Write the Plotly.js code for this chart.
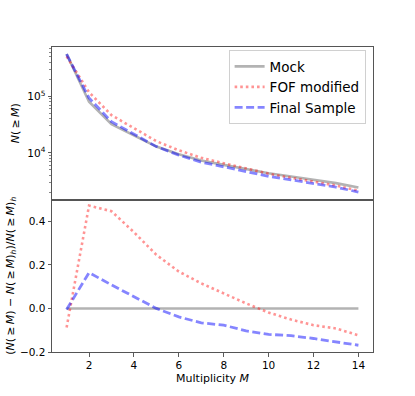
<!DOCTYPE html>
<html>
<head>
<meta charset="utf-8">
<script src="https://cdn.plot.ly/plotly-3.0.1.min.js"></script>
<style>
  html, body { margin: 0; padding: 0; background: #fff; }
  #plot { width: 415px; height: 396px; }
</style>
</head>
<body>
<div id="plot"></div>
<script>
// multiplicity bins
const multiplicity = [1, 2, 3, 4, 5, 6, 7, 8, 9, 10, 11, 12, 13, 14];

// cumulative counts N(>=M)
const nMock  = [556000, 80000, 32000, 20200, 12900, 9480, 7330, 6140, 5150, 4370, 3820, 3340, 2920, 2440];
const nFof   = [507000, 117800, 46300, 27300, 16100, 11080, 8170, 6560, 5270, 4290, 3630, 3080, 2650, 2140];
const nFinal = [553000, 93100, 35500, 21300, 12900, 9110, 6850, 5670, 4620, 3850, 3340, 2880, 2480, 2030];

// relative difference to the mock
const dMock  = [0, 0, 0, 0, 0, 0, 0, 0, 0, 0, 0, 0, 0, 0];
const dFof   = [-0.088, 0.472, 0.446, 0.35, 0.246, 0.169, 0.115, 0.069, 0.023, -0.019, -0.051, -0.077, -0.092, -0.123];
const dFinal = [-0.005, 0.164, 0.108, 0.054, 0.0, -0.039, -0.066, -0.077, -0.103, -0.119, -0.125, -0.138, -0.152, -0.169];

const logMinor = [2000, 3000, 4000, 5000, 6000, 7000, 8000, 9000,
                  20000, 30000, 40000, 50000, 60000, 70000, 80000, 90000,
                  200000, 300000, 400000, 500000, 600000, 700000];

const gray = 'rgba(128,128,128,0.6)';
const red = 'rgba(255,0,0,0.42)';
const blue = 'rgba(0,0,255,0.48)';

const lineMock  = {color: gray, width: 2.6};
const lineFof   = {color: red, width: 2.6, dash: '2.6px,3px'};
const lineFinal = {color: blue, width: 2.8, dash: '8px,3.5px'};

const traces = [
    {x: multiplicity, y: nMock, name: 'Mock', mode: 'lines', line: lineMock, xaxis: 'x', yaxis: 'y'},
    {x: multiplicity, y: nFof, name: 'FOF modified', mode: 'lines', line: lineFof, xaxis: 'x', yaxis: 'y'},
    {x: multiplicity, y: nFinal, name: 'Final Sample', mode: 'lines', line: lineFinal, xaxis: 'x', yaxis: 'y'},
    {x: multiplicity, y: dMock, mode: 'lines', line: lineMock, xaxis: 'x2', yaxis: 'y2', showlegend: false},
    {x: multiplicity, y: dFof, mode: 'lines', line: lineFof, xaxis: 'x2', yaxis: 'y2', showlegend: false},
    {x: multiplicity, y: dFinal, mode: 'lines', line: lineFinal, xaxis: 'x2', yaxis: 'y2', showlegend: false}
];

const font = {family: 'DejaVu Sans', color: '#000'};
const spine = {showline: true, mirror: true, linecolor: '#555', linewidth: 1,
               showgrid: false, zeroline: false};

const geq = '(\u2009\u2265\u2009';

const layout = {
    width: 415,
    height: 396,
    margin: {l: 52, r: 42, t: 47, b: 44},
    paper_bgcolor: '#fff',
    plot_bgcolor: '#fff',
    font: Object.assign({size: 10}, font),
    showlegend: true,
    legend: {
        x: 0.977, y: 0.99, xanchor: 'right', yanchor: 'top',
        bgcolor: 'rgba(255,255,255,0.8)', bordercolor: '#d0d0d0', borderwidth: 1,
        font: Object.assign({size: 13.5}, font),
        tracegroupgap: 0
    },
    xaxis: Object.assign({}, spine, {
        domain: [0, 1], anchor: 'y', range: [0.35, 14.65],
        showticklabels: false, ticks: ''
    }),
    yaxis: Object.assign({}, spine, {
        domain: [0.5, 1], anchor: 'x', type: 'log',
        range: [3.176, 5.87],
        tickmode: 'array', tickvals: [10000, 100000],
        ticktext: ['10<sup>4</sup>', '10<sup>5</sup>'],
        ticks: 'outside', ticklen: 3.5, tickwidth: 0.8, tickcolor: '#333',
        tickfont: Object.assign({size: 10.5}, font),
        minor: {tickmode: 'array', tickvals: logMinor, ticks: 'outside', ticklen: 2, tickwidth: 0.6, tickcolor: '#333'},
        title: {text: '<i>N</i>' + geq + '<i>M</i>)', font: Object.assign({size: 11}, font), standoff: 5},
        automargin: false
    }),
    xaxis2: Object.assign({}, spine, {
        domain: [0, 1], anchor: 'y2', range: [0.35, 14.65],
        tickmode: 'array', tickvals: [2, 4, 6, 8, 10, 12, 14],
        ticks: 'outside', ticklen: 3.5, tickwidth: 0.8, tickcolor: '#333',
        tickfont: Object.assign({size: 10.5}, font),
        title: {text: 'Multiplicity <i>M</i>', font: Object.assign({size: 11}, font), standoff: 4},
        automargin: false
    }),
    yaxis2: Object.assign({}, spine, {
        domain: [0, 0.5], anchor: 'x2', range: [-0.2, 0.5],
        tickmode: 'array', tickvals: [-0.2, 0, 0.2, 0.4], tickformat: '.1f',
        ticks: 'outside', ticklen: 3.5, tickwidth: 0.8, tickcolor: '#333',
        tickfont: Object.assign({size: 10.5}, font),
        title: {
            text: '(<i>N</i>' + geq + '<i>M</i>) \u2212 <i>N</i>' + geq + '<i>M</i>)<sub><i>h</i></sub>)/<i>N</i>' + geq + '<i>M</i>)<sub><i>h</i></sub>',
            font: Object.assign({size: 11}, font), standoff: 3
        },
        automargin: false
    })
};

Plotly.newPlot('plot', traces, layout, {displayModeBar: false, staticPlot: true});
</script>
</body>
</html>
